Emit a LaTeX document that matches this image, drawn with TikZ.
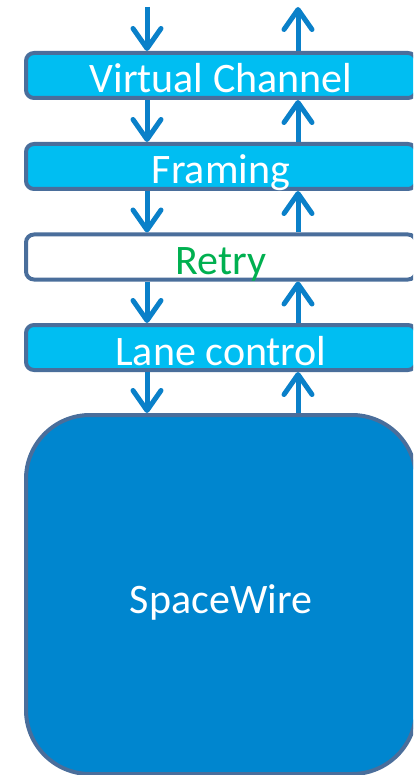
\documentclass[tikz,border=0pt]{standalone}
\usepackage{fontspec}
\setmainfont{Carlito}
\usetikzlibrary{arrows.meta}
\definecolor{layerfill}{HTML}{00BEF2}
\definecolor{layeredge}{HTML}{4A6E9B}
\definecolor{flow}{HTML}{0A80C9}
\definecolor{phyfill}{HTML}{0086CF}
\definecolor{retrytext}{HTML}{00B050}
\tikzset{
  layer/.style={draw=layeredge, line width=4pt, fill=layerfill, rounded corners=8pt,
    minimum width=390pt, minimum height=45pt, inner sep=0pt,
    text=white, font=\fontsize{42}{50}\selectfont, text height=35pt, text depth=0pt},
  plainlayer/.style={layer, fill=white, text=retrytext},
  phy/.style={draw=layeredge, line width=4pt, fill=phyfill, rounded corners=64pt,
    minimum width=390pt, minimum height=359pt, inner sep=0pt,
    text=white, font=\fontsize{42}{50}\selectfont, text height=37pt, text depth=0pt},
  flowarrow/.style={draw=flow, line width=5pt,
    -{Straight Barb[length=20pt, width=28pt, round]}}
}
\begin{document}
\begin{tikzpicture}[x=1pt, y=-1pt]
  \useasboundingbox (0,0) rectangle (413,775);
  \clip (0,0) rectangle (413,775);

  % protocol stack
  \node[layer]      (vc)   at (221,75.5)  {Virtual Channel};
  \node[layer]      (fr)   at (221,166.5) {Framing};
  \node[plainlayer] (rt)   at (221,257)   {Retry};
  \node[layer]      (lc)   at (221,347.5) {Lane control};
  \node[phy]        (sw)   at (221,594.5) {SpaceWire};

  % columns for transmit (down) and receive (up) paths
  \coordinate (tx) at (147,0);
  \coordinate (rx) at (298,0);
  \coordinate (txin)  at (147,7);
  \coordinate (rxout) at (298,7);

  % transmit path
  \draw[flowarrow] (txin) -- (vc.north -| tx);
  \draw[flowarrow] (vc.south -| tx) -- (fr.north -| tx);
  \draw[flowarrow] (fr.south -| tx) -- (rt.north -| tx);
  \draw[flowarrow] (rt.south -| tx) -- (lc.north -| tx);
  \draw[flowarrow] (lc.south -| tx) -- (sw.north -| tx);

  % receive path
  \draw[flowarrow] (sw.north -| rx) -- (lc.south -| rx);
  \draw[flowarrow] (lc.north -| rx) -- (rt.south -| rx);
  \draw[flowarrow] (rt.north -| rx) -- (fr.south -| rx);
  \draw[flowarrow] (fr.north -| rx) -- (vc.south -| rx);
  \draw[flowarrow] (vc.north -| rx) -- (rxout);
\end{tikzpicture}
\end{document}
